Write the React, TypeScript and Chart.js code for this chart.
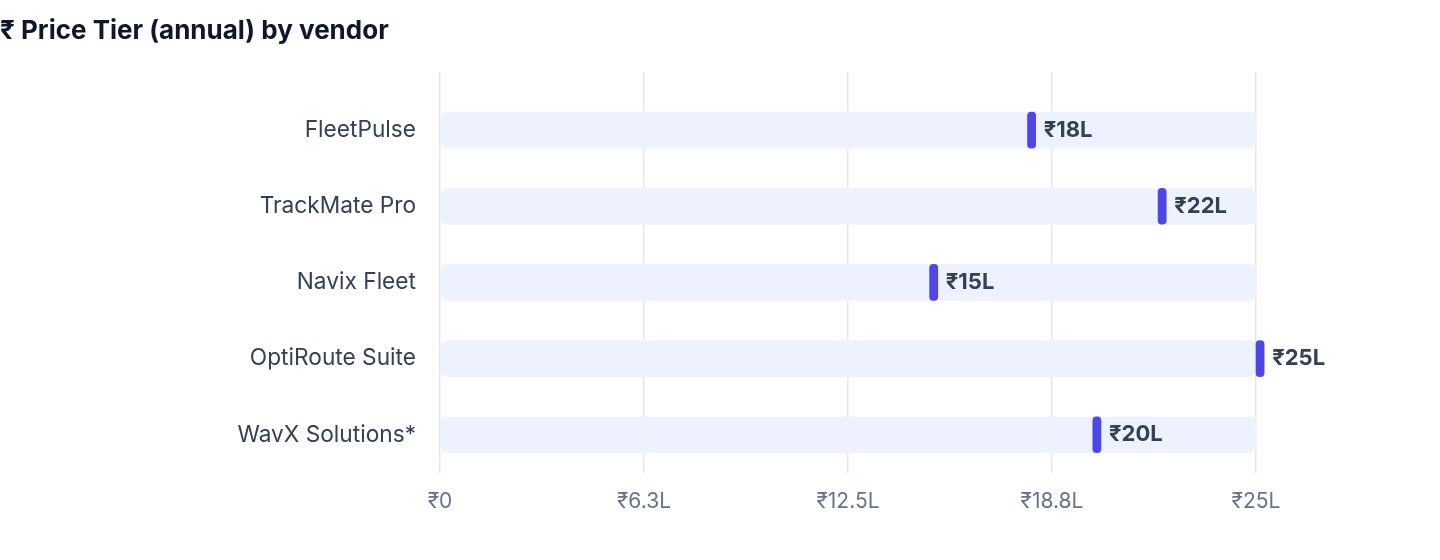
import React, { useEffect, useRef } from "react";
import { Chart, registerables } from "chart.js";

Chart.register(...registerables);

// annual price per vendor, in lakh rupees
const vendors = ["FleetPulse", "TrackMate Pro", "Navix Fleet", "OptiRoute Suite", "WavX Solutions*"];
const prices = [18, 22, 15, 25, 20];
const trackStart = [0, 0, 0, 0, 0];
const trackEnd = [25, 25, 25, 25, 25];
const tickValues = [0, 6.25, 12.5, 18.75, 25];
const tickLabels = ["₹0", "₹6.3L", "₹12.5L", "₹18.8L", "₹25L"];

const FONT = "Inter, 'Noto Sans', 'DejaVu Sans', sans-serif";
const GRID = "#e2e8f0";
const MARKER_W = 0.25; // marker thickness in lakh

const valueLabels = {
    id: "valueLabels",
    afterDatasetsDraw(chart: Chart) {
        const meta = chart.getDatasetMeta(0);
        const ctx = chart.ctx;
        ctx.save();
        ctx.font = `bold 22px ${FONT}`;
        ctx.fillStyle = "#334155";
        ctx.textAlign = "left";
        ctx.textBaseline = "middle";
        meta.data.forEach((bar: any, i: number) => {
            const { x, y, base } = bar.getProps(["x", "y", "base"], true);
            ctx.fillText(`₹${prices[i]}L`, Math.max(x, base) + 8, y);
        });
        ctx.restore();
    },
};

const setTicks = (scale: any) => {
    scale.ticks = tickValues.map((v) => ({ value: v }));
};

export default function App() {
    const ref = useRef<HTMLCanvasElement | null>(null);

    useEffect(() => {
        document.body.style.margin = "0";
        if (!ref.current) return;

        const chart = new Chart(ref.current, {
            type: "bar",
            data: {
                labels: vendors,
                datasets: [
                    {
                        label: "Price",
                        data: prices.map((v) => [v, v + MARKER_W]),
                        backgroundColor: "#4f46e5",
                        borderRadius: 4,
                        borderSkipped: false,
                        barThickness: 36,
                        grouped: false,
                        clip: false,
                        order: 1,
                    } as any,
                    {
                        label: "Range",
                        data: trackStart.map((s, i) => [s, trackEnd[i]]),
                        backgroundColor: "#eef2ff",
                        borderRadius: 8,
                        borderSkipped: false,
                        barThickness: 36,
                        grouped: false,
                        order: 2,
                    } as any,
                ],
            },
            options: {
                indexAxis: "y",
                animation: false,
                responsive: true,
                maintainAspectRatio: false,
                layout: { padding: { left: 0, right: 184, top: 0, bottom: 30 } },
                plugins: {
                    legend: { display: false },
                    tooltip: { enabled: false },
                    title: {
                        display: true,
                        text: "₹ Price Tier (annual) by vendor",
                        align: "start",
                        color: "#0f172a",
                        font: { family: FONT, size: 26, weight: "bold" },
                        padding: { top: 16, bottom: 24.8 },
                    },
                },
                scales: {
                    x: {
                        type: "linear",
                        position: "bottom",
                        min: 0,
                        max: 25,
                        afterBuildTicks: setTicks,
                        ticks: {
                            callback: (_v: any, i: number) => tickLabels[i],
                            color: "#64748b",
                            font: { family: FONT, size: 21 },
                            padding: 16,
                            maxRotation: 0,
                            autoSkip: false,
                        },
                        grid: { color: GRID, lineWidth: 1.5, drawTicks: false },
                        border: { display: false },
                    },
                    x2: {
                        type: "linear",
                        position: "top",
                        min: 0,
                        max: 25,
                        afterBuildTicks: setTicks,
                        ticks: { display: false },
                        grid: {
                            color: GRID,
                            lineWidth: 1.5,
                            drawOnChartArea: false,
                            drawTicks: true,
                            tickLength: 20,
                        },
                        border: { display: false },
                    },
                    y: {
                        type: "category",
                        grid: { display: false, drawTicks: false },
                        border: { display: false },
                        ticks: {
                            color: "#334155",
                            font: { family: FONT, size: 22.7 },
                            padding: 24,
                        },
                        afterFit: (s: any) => {
                            s.width = 440;
                        },
                    },
                },
            },
            plugins: [valueLabels],
        } as any);

        return () => chart.destroy();
    }, []);

    return (
        <div style={{ position: "relative", width: 1440, height: 560 }}>
            <canvas ref={ref} />
        </div>
    );
}
